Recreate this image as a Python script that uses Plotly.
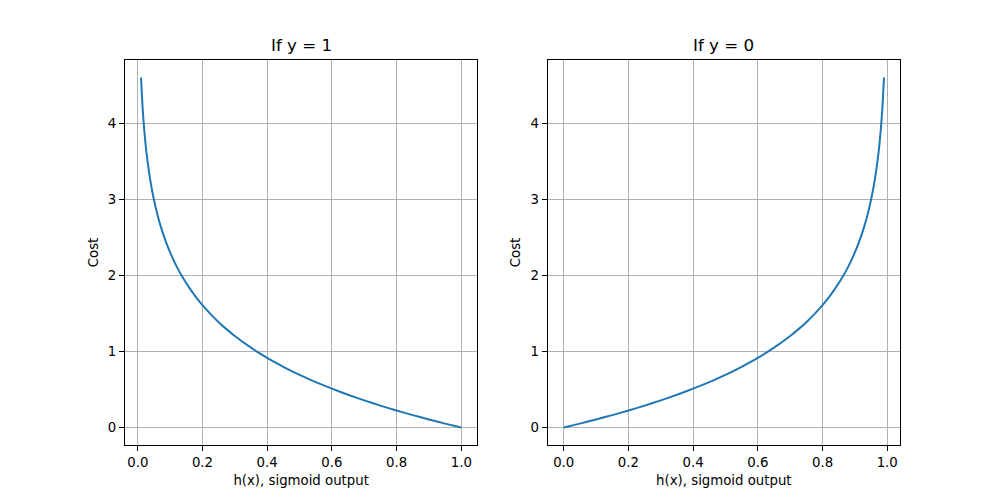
import plotly.graph_objects as go

# Values
h_left = [0.01, 0.015, 0.02, 0.025, 0.03, 0.04, 0.05, 0.06, 0.07, 0.085, 0.10, 0.12, 0.14, 0.16, 0.18, 0.20, 0.225, 0.25, 0.275,
          0.30, 0.35, 0.40, 0.45, 0.50, 0.55, 0.60, 0.65, 0.70, 0.75, 0.80, 0.85, 0.90, 0.95, 1.00]
cost_left = [4.605, 4.200, 3.912, 3.689, 3.507, 3.219, 2.996, 2.813, 2.659, 2.465, 2.303, 2.120, 1.966, 1.833, 1.715, 1.609,
             1.492, 1.386, 1.291, 1.204, 1.050, 0.916, 0.799, 0.693, 0.598, 0.511, 0.431, 0.357, 0.288, 0.223, 0.163,
             0.105, 0.051, 0.0]

h_right = [0.00, 0.05, 0.10, 0.15, 0.20, 0.25, 0.30, 0.35, 0.40, 0.45, 0.50, 0.55, 0.60, 0.65, 0.70, 0.725, 0.75, 0.775, 0.80,
           0.82, 0.84, 0.86, 0.88, 0.90, 0.915, 0.93, 0.94, 0.95, 0.96, 0.97, 0.975, 0.98, 0.985, 0.99]
cost_right = [0.0, 0.051, 0.105, 0.163, 0.223, 0.288, 0.357, 0.431, 0.511, 0.598, 0.693, 0.799, 0.916, 1.050, 1.204, 1.291,
              1.386, 1.492, 1.609, 1.715, 1.833, 1.966, 2.120, 2.303, 2.465, 2.659, 2.813, 2.996, 3.219, 3.507, 3.689,
              3.912, 4.200, 4.605]

titles = ["If y = 1", "If y = 0"]
x_ticks = [0.0, 0.2, 0.4, 0.6, 0.8, 1.0]
x_ticklabels = ["0.0", "0.2", "0.4", "0.6", "0.8", "1.0"]
y_ticks = [0, 1, 2, 3, 4]

blue = "#1f77b4"
font = "DejaVu Sans"

fig = go.Figure()
fig.add_trace(go.Scatter(x=h_left, y=cost_left, mode="lines", line=dict(color=blue, width=2, shape="spline", smoothing=0.5),
                         xaxis="x", yaxis="y", showlegend=False))
fig.add_trace(go.Scatter(x=h_right, y=cost_right, mode="lines", line=dict(color=blue, width=2, shape="spline", smoothing=0.5),
                         xaxis="x2", yaxis="y2", showlegend=False))

ax_common = dict(showline=True, mirror=True, linecolor="black", linewidth=1,
                 ticks="outside", ticklen=5, tickwidth=1, tickcolor="black",
                 showgrid=True, gridcolor="#b0b0b0", gridwidth=1, zeroline=False,
                 tickfont=dict(family=font, size=13.3, color="black"))

ymax = max(cost_left)
ypad = ymax * 0.05
yrange = [-ypad, ymax + ypad]

def xr(xs):
    lo, hi = min(xs), max(xs)
    p = (hi - lo) * 0.05
    return [lo - p, hi + p]

fig.update_layout(
    width=1000, height=500,
    margin=dict(l=0, r=0, t=0, b=0),
    paper_bgcolor="white", plot_bgcolor="white",
    font=dict(family=font, color="black"),
    xaxis=dict(domain=[0.125, 0.4773], range=xr(h_left), tickvals=x_ticks, ticktext=x_ticklabels,
               anchor="y", title=dict(text="h(x), sigmoid output", font=dict(size=13.3), standoff=6), **ax_common),
    yaxis=dict(domain=[0.11, 0.88], range=yrange, tickvals=y_ticks, anchor="x",
               title=dict(text="Cost", font=dict(size=13.3), standoff=6), **ax_common),
    xaxis2=dict(domain=[0.5477, 0.9], range=xr(h_right), tickvals=x_ticks, ticktext=x_ticklabels,
                anchor="y2", title=dict(text="h(x), sigmoid output", font=dict(size=13.3), standoff=6), **ax_common),
    yaxis2=dict(domain=[0.11, 0.88], range=yrange, tickvals=y_ticks, anchor="x2",
                title=dict(text="Cost", font=dict(size=13.3), standoff=6), **ax_common),
)

centers = [(0.125 + 0.4773) / 2, (0.5477 + 0.9) / 2]
for c, t in zip(centers, titles):
    fig.add_annotation(text=t, x=c, y=0.88, xref="paper", yref="paper", xanchor="center", yanchor="bottom",
                       yshift=3, showarrow=False, font=dict(family=font, size=16.7, color="black"))

fig.write_html("out.html")
